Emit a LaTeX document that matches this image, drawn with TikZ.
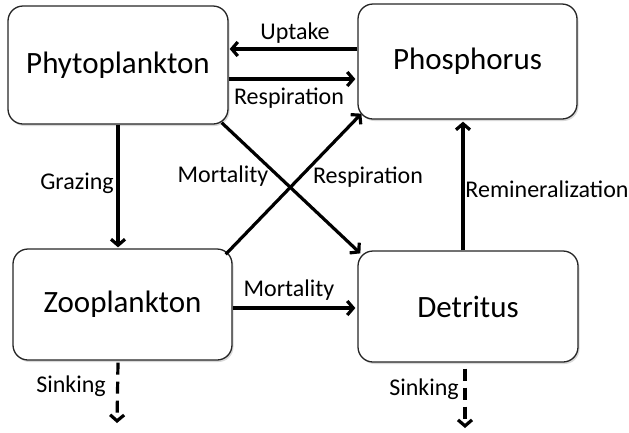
\documentclass[tikz,border=0pt]{standalone}
\usepackage{fontspec}
\setmainfont{Carlito}
\usetikzlibrary{arrows.meta,shadows}
\begin{document}
\begin{tikzpicture}[x=1pt,y=-1pt,
  box/.style={draw=black!85, line width=1.3pt, rounded corners=15pt, fill=white,
    drop shadow={opacity=0.3, shadow xshift=1.5pt, shadow yshift=-2pt},
    font=\fontsize{31}{36}\selectfont, inner sep=0pt},
  arr/.style={line width=3.2pt, -{Straight Barb[length=6pt,width=14pt]}},
  sink/.style={arr, dash pattern=on 12pt off 7pt},
  lbl/.style={font=\fontsize{24}{28}\selectfont, inner sep=0pt}]
\useasboundingbox (0,0) rectangle (629,432);
\node[box, minimum width=220pt, minimum height=118pt] (phy) at (118,65) {Phytoplankton};
\node[box, minimum width=219pt, minimum height=115pt] (phos) at (467.5,61.5) {Phosphorus};
\node[box, minimum width=219pt, minimum height=111pt] (zoo) at (122.5,304.5) {Zooplankton};
\node[box, minimum width=220pt, minimum height=111pt] (det) at (468,306.5) {Detritus};
% connectors
\draw[arr, shorten >=1pt] (phos.west |- 0,49) -- (phy.east |- 0,49);
\draw[arr, shorten >=2pt] (phy.east |- 0,79) -- (phos.west |- 0,79);
\draw[arr, shorten >=1pt] (phy.south) -- (phy.south |- zoo.north);
\draw[arr] ([shift={(-7,-2)}]phy.south east) -- ([shift={(3,3)}]det.north west);
\draw[arr] ([shift={(-7,6)}]zoo.north east) -- ([shift={(4,-6)}]phos.south west);
\draw[arr, shorten >=2pt] (zoo.east |- 0,308) -- (det.west |- 0,308);
\draw[arr, shorten >=2pt] ([xshift=-5pt]det.north) -- ([xshift=-5pt]det.north |- phos.south);
\coordinate (zsink) at (117,423);
\coordinate (dsink) at (465,428);
\draw[sink] ([yshift=-2pt]phy.south |- zoo.south) -- (zsink);
\draw[sink] ([yshift=-6pt]dsink |- det.south) -- (dsink);
% labels
\node[lbl] (l1) at (295,33) {Uptake};
\node[lbl] (l2) at (289,98) {Respiration};
\node[lbl] (l3) at (77,183) {Grazing};
\node[lbl] (l4) at (223,176) {Mortality};
\node[lbl] (l5) at (368,177) {Respiration};
\node[lbl] (l6) at (547,189) {Remineralization};
\node[lbl] (l7) at (289,290) {Mortality};
\node[lbl] (l8) at (71,386) {Sinking};
\node[lbl] (l9) at (424,389) {Sinking};
\end{tikzpicture}
\end{document}
